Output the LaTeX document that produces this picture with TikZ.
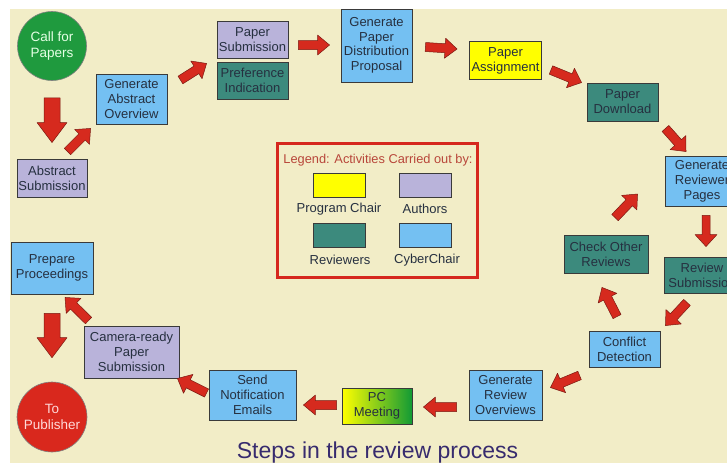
\documentclass[tikz,border=0pt]{standalone}
\usepackage{fontspec}
\setmainfont{Liberation Sans}
\usetikzlibrary{calc}
\definecolor{bgc}{HTML}{F2EDC7}
\definecolor{bluec}{HTML}{74C0F2}
\definecolor{purplec}{HTML}{B9B3DA}
\definecolor{tealc}{HTML}{3C8A7D}
\definecolor{yellowc}{HTML}{FFFF00}
\definecolor{greenc}{HTML}{1F9A3E}
\definecolor{redc}{HTML}{D9281D}
\definecolor{arrowc}{HTML}{D62A1E}
\definecolor{arrowline}{HTML}{7A1A12}
\definecolor{boxline}{HTML}{3A3A3A}
\definecolor{txtc}{HTML}{263040}
\definecolor{titlec}{HTML}{372B6E}
\definecolor{legred}{HTML}{D6281E}
\definecolor{legtxt}{HTML}{B8463A}
\definecolor{pcgreen}{HTML}{129A35}
\newcommand{\blkarrow}[5]{%
  \coordinate (bhd) at ($(#2)!#5!(#1)$);
  \filldraw[arrowfill] ($(#1)!#3!90:(#2)$) -- ($(bhd)!#3!-90:(#1)$) -- ($(bhd)!#4!-90:(#1)$) -- (#2) -- ($(bhd)!#4!90:(#1)$) -- ($(bhd)!#3!90:(#1)$) -- ($(#1)!#3!-90:(#2)$) -- cycle;}
\tikzset{
  arrowfill/.style={fill=arrowc, draw=arrowline, line width=0.5pt, line join=round},
  box/.style={draw=boxline, line width=0.9pt, align=center, inner sep=0pt, text=txtc,
    font=\fontsize{13}{15}\selectfont},
  bluebox/.style={box, fill=bluec},
  purplebox/.style={box, fill=purplec},
  tealbox/.style={box, fill=tealc},
  yellowbox/.style={box, fill=yellowc},
  roundnode/.style={circle, draw=black!50, line width=0.6pt, minimum size=69pt, inner sep=0pt, align=center,
    font=\fontsize{13.5}{15.5}\selectfont},
  swatch/.style={draw=boxline, line width=0.7pt, minimum width=52pt, minimum height=24pt, inner sep=0pt},
  leglabel/.style={text=txtc, font=\fontsize{13}{15}\selectfont, inner sep=0pt},
}
\begin{document}
\begin{tikzpicture}[x=1pt, y=-1pt]
\useasboundingbox (0,0) rectangle (727,463);
\clip (0,0) rectangle (727,463);
\fill[white] (0,0) rectangle (727,463);
\fill[bgc] (10,9) rectangle (727,463);

% nodes
\node[roundnode, fill=greenc, text=green!10!white] (call) at (52,46) {Call for\\Papers};
\node[purplebox, minimum width=70pt, minimum height=38pt] (abs) at (52,178) {Abstract\\Submission};
\node[bluebox, minimum width=71pt, minimum height=50pt] (gao) at (131.5,99) {Generate\\Abstract\\Overview};
\node[purplebox, minimum width=71pt, minimum height=37pt] (ps) at (252.5,39.5) {Paper\\Submission};
\node[tealbox, minimum width=71pt, minimum height=37pt] (pi) at (252.5,80.5) {Preference\\Indication};
\node[bluebox, minimum width=71pt, minimum height=73pt, font=\fontsize{13}{14.5}\selectfont] (gpd) at (376.5,45.5) {Generate\\Paper\\Distribution\\Proposal};
\node[yellowbox, minimum width=72pt, minimum height=38pt] (pa) at (505.5,60.5) {Paper\\Assignment};
\node[tealbox, minimum width=71pt, minimum height=38pt] (pd) at (622.5,102) {Paper\\Download};
\node[bluebox, minimum width=74pt, minimum height=50pt] (grp) at (702,181) {Generate\\Reviewer\\Pages};
\node[tealbox, minimum width=76pt, minimum height=36pt] (rs) at (702,275) {Review\\Submission};
\node[tealbox, minimum width=84pt, minimum height=38pt] (cor) at (606,254) {Check Other\\Reviews};
\node[bluebox, minimum width=71pt, minimum height=36pt] (cd) at (624.5,349) {Conflict\\Detection};
\node[bluebox, minimum width=73pt, minimum height=50pt] (gro) at (505.5,395) {Generate\\Review\\Overviews};
\node[box, left color=yellowc, right color=pcgreen, minimum width=70pt, minimum height=36pt] (pc) at (377,406) {PC\\Meeting};
\node[bluebox, minimum width=87pt, minimum height=50pt] (sne) at (252.5,395) {Send\\Notification\\Emails};
\node[purplebox, minimum width=95pt, minimum height=52pt] (crp) at (131.5,352) {Camera-ready\\Paper\\Submission};
\node[bluebox, minimum width=82pt, minimum height=52pt] (pp) at (52,268) {Prepare\\Proceedings};
\node[roundnode, fill=redc, text=red!15!white, minimum size=70pt] (tp) at (52,417) {To\\Publisher};

% legend
\node[draw=legred, line width=3pt, minimum width=200pt, minimum height=134pt, inner sep=0pt] (legend) at (377,210) {};
\node[text=legtxt, font=\fontsize{12.8}{14}\selectfont, inner sep=0pt] (legtitle) at (378,160) {Legend: Activities Carried out by:};
\node[swatch, fill=yellowc] (sw1) at (339,185) {};
\node[swatch, fill=purplec] (sw2) at (425.5,185) {};
\node[swatch, fill=tealc] (sw3) at (339,235) {};
\node[swatch, fill=bluec] (sw4) at (425.5,235) {};
\node[leglabel] (lb1) at (339,209) {Program Chair};
\node[leglabel] (lb2) at (425,209) {Authors};
\node[leglabel] (lb3) at (340,260) {Reviewers};
\node[leglabel] (lb4) at (427,260) {CyberChair};

% title
\node[anchor=base, text=titlec, font=\fontsize{23}{26}\selectfont, inner sep=0pt] (title) at (377.5,458) {Steps in the review process};

% arrow end points
\coordinate (a1s) at ([shift={(0,17)}]call.south);
\coordinate (a1e) at ([shift={(0,-16)}]abs.north);
\coordinate (a2s) at ([shift={(-20,-7)}]abs.north east);
\coordinate (a2e) at ([shift={(-5,4)}]gao.south west);
\coordinate (a3s) at ([shift={(13,-19)}]gao.east);
\coordinate (a3e) at ([shift={(-10,5)}]ps.south west);
\coordinate (a4s) at ([shift={(10,5.5)}]ps.east);
\coordinate (a4e) at ([shift={(-11,-0.5)}]gpd.west);
\coordinate (a5s) at ([shift={(13,1.5)}]gpd.east);
\coordinate (a5e) at ([shift={(-12,-11.5)}]pa.west);
\coordinate (a6s) at ([shift={(9,9.5)}]pa.east);
\coordinate (a6e) at ([shift={(-5,0)}]pd.north west);
\coordinate (a7s) at ([shift={(7,7)}]pd.south east);
\coordinate (a7e) at ([shift={(-16,-4)}]grp.north);
\coordinate (a8s) at ([shift={(4,9)}]grp.south);
\coordinate (a8e) at ([shift={(4,-10)}]rs.north);
\coordinate (a9s) at ([shift={(-15,9)}]rs.south);
\coordinate (a9e) at ([shift={(5,-5)}]cd.north east);
\coordinate (a10s) at ([shift={(-9,8)}]cd.south west);
\coordinate (a10e) at ([shift={(8,18)}]gro.north east);
\coordinate (a11s) at ([shift={(-12,12)}]gro.west);
\coordinate (a11e) at ([shift={(11,1)}]pc.east);
\coordinate (a12s) at ([shift={(-5,-1)}]pc.west);
\coordinate (a12e) at ([shift={(7,10)}]sne.east);
\coordinate (a13s) at ([shift={(-2,-2)}]sne.west);
\coordinate (a13e) at ([shift={(-2,0)}]crp.south east);
\coordinate (a14s) at ([shift={(5,-5)}]crp.north west);
\coordinate (a14e) at ([shift={(13,3)}]pp.south);
\coordinate (a15s) at ([shift={(0,19)}]pp.south);
\coordinate (a15e) at ([shift={(0,-24)}]tp.north);
\coordinate (a16s) at ([shift={(-7.5,-14)}]cd.north);
\coordinate (a16e) at ([shift={(-4,14)}]cor.south);
\coordinate (a17s) at ([shift={(9,-17)}]cor.north);
\coordinate (a17e) at ([shift={(-27,13)}]grp.west);

% arrows
\blkarrow{a1s}{a1e}{8pt}{15pt}{20pt}
\blkarrow{a2s}{a2e}{4.5pt}{10.5pt}{12pt}
\blkarrow{a3s}{a3e}{4.5pt}{10.5pt}{12pt}
\blkarrow{a4s}{a4e}{4.5pt}{10pt}{12pt}
\blkarrow{a5s}{a5e}{4.5pt}{10pt}{12pt}
\blkarrow{a6s}{a6e}{4.5pt}{10.5pt}{12pt}
\blkarrow{a7s}{a7e}{4.5pt}{10.5pt}{12pt}
\blkarrow{a8s}{a8e}{4pt}{11pt}{12pt}
\blkarrow{a9s}{a9e}{4.5pt}{10.5pt}{12pt}
\blkarrow{a10s}{a10e}{4.5pt}{10.5pt}{12pt}
\blkarrow{a11s}{a11e}{4.5pt}{10pt}{12pt}
\blkarrow{a12s}{a12e}{4.5pt}{10pt}{12pt}
\blkarrow{a13s}{a13e}{4.5pt}{10.5pt}{12pt}
\blkarrow{a14s}{a14e}{4.5pt}{10.5pt}{12pt}
\blkarrow{a15s}{a15e}{8pt}{15pt}{20pt}
\blkarrow{a16s}{a16e}{4.5pt}{10.5pt}{12pt}
\blkarrow{a17s}{a17e}{4.5pt}{10.5pt}{12pt}
\end{tikzpicture}
\end{document}
